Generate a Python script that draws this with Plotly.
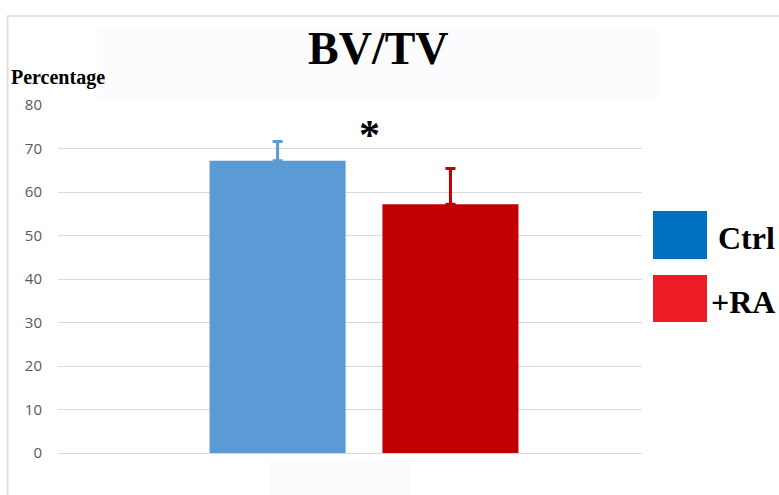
import plotly.graph_objects as go

# ---- data ----
groups = ["Ctrl", "+RA"]
values = [67.2, 57.2]
err_plus = [4.4, 8.2]
bar_colors = ["#5B9BD5", "#C00000"]
legend_colors = ["#0070C0", "#ED1C24"]
y_ticks = [0, 10, 20, 30, 40, 50, 60, 70, 80]
title_text = "BV/TV"
y_title = "Percentage"
sig_mark = "*"

W, H = 779, 495
L, R, T, B = 58, 137, 105, 42

fig = go.Figure()
for g, v, e, c in zip(groups, values, err_plus, bar_colors):
    fig.add_trace(go.Bar(
        x=[0], y=[v], name=g, marker=dict(color=c, line=dict(width=0)),
        error_y=dict(type="data", symmetric=False, array=[e], arrayminus=[0],
                     color=c, thickness=3, width=5),
        showlegend=False,
    ))

pw, ph = W - L - R, H - T - B
def fx(p):
    return (p - L) / pw
def fy(p):
    return (H - B - p) / ph

shapes = [
    # faint background panels
    dict(type="rect", xref="paper", yref="paper", layer="below",
         x0=fx(97), x1=fx(659), y0=fy(100), y1=fy(28),
         fillcolor="#FCFCFE", line=dict(width=0)),
    dict(type="rect", xref="paper", yref="paper", layer="below",
         x0=fx(270), x1=fx(410), y0=fy(495), y1=fy(458),
         fillcolor="#FCFCFE", line=dict(width=0)),
]

# border lines
shapes.append(dict(type="line", xref="paper", yref="paper", x0=fx(7), x1=fx(W + 5),
                   y0=fy(16), y1=fy(16), line=dict(color="#E2E2E2", width=2)))
shapes.append(dict(type="line", xref="paper", yref="paper", x0=fx(7.5), x1=fx(7.5),
                   y0=fy(16), y1=fy(H + 5), line=dict(color="#E2E2E2", width=2)))

# legend swatches
sw = [(211, 259), (275, 322)]
annotations = []
for (y0, y1), c, g in zip(sw, legend_colors, groups):
    shapes.append(dict(type="rect", xref="paper", yref="paper",
                       x0=fx(653), x1=fx(707), y0=fy(y1), y1=fy(y0),
                       fillcolor=c, line=dict(width=0)))
    annotations.append(dict(xref="paper", yref="paper", x=fx(777), y=fy((y0 + y1) / 2 + 3),
                            text=g, showarrow=False, xanchor="right", yanchor="middle",
                            font=dict(family="Liberation Serif", size=32, color="#000000")))

annotations.append(dict(xref="paper", yref="paper", x=fx(378), y=fy(49), text=title_text,
                        showarrow=False, xanchor="center", yanchor="middle",
                        font=dict(family="Liberation Serif", size=46, color="#000000")))
annotations.append(dict(xref="paper", yref="paper", x=fx(9), y=fy(78), text=y_title,
                        showarrow=False, xanchor="left", yanchor="middle",
                        font=dict(family="Liberation Serif", size=20, color="#000000")))
annotations.append(dict(xref="x", yref="y", x=0.01, y=73.0, text=sig_mark,
                        showarrow=False, xanchor="center", yanchor="middle",
                        font=dict(family="Liberation Serif", size=42, color="#000000")))

for a in annotations:
    a["text"] = "<b>" + a["text"] + "</b>"

fig.update_layout(
    width=W, height=H,
    margin=dict(l=L, r=R, t=T, b=B),
    paper_bgcolor="#FFFFFF", plot_bgcolor="#FFFFFF",
    barmode="group", bargap=0.408, bargroupgap=0.213,
    shapes=shapes, annotations=annotations,
    xaxis=dict(range=[-0.524, 0.476], showticklabels=False, showgrid=False,
               zeroline=False, showline=False, ticks=""),
    yaxis=dict(range=[0, 80], tickvals=y_ticks, showgrid=True, gridcolor="#D9D9D9",
               gridwidth=1, zeroline=True, zerolinecolor="#D9D9D9", zerolinewidth=1,
               showline=False, ticks="", ticklabelstandoff=15,
               tickfont=dict(family="Open Sans", size=15, color="#595959")),
    font=dict(family="Open Sans"),
)

fig.write_html("out.html")
